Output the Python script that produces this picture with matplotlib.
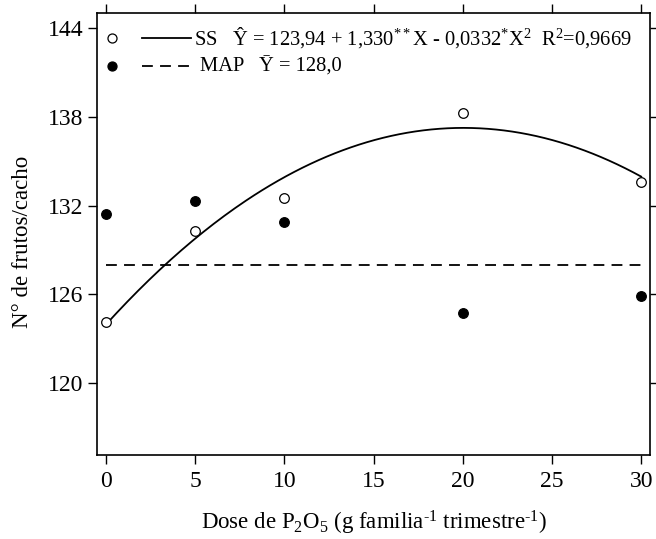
import numpy as np
import matplotlib
matplotlib.use("Agg")
import matplotlib.pyplot as plt

plt.rcParams['font.family'] = ['Liberation Serif', 'DejaVu Serif']
plt.rcParams['mathtext.fontset'] = 'custom'
plt.rcParams['mathtext.rm'] = 'Liberation Serif'
plt.rcParams['mathtext.it'] = 'Liberation Serif:italic'
plt.rcParams['mathtext.bf'] = 'Liberation Serif:bold'

# Doses of P2O5 and observed fruits per bunch
dose = [0, 5, 10, 20, 30]
ss_obs = [124.1, 130.3, 132.5, 138.3, 133.6]
map_obs = [131.4, 132.3, 130.9, 124.7, 125.9]

# Fitted models
ss_coef = [123.94, 1.330, -0.0332]
map_mean = 128.0

xticks = [0, 5, 10, 15, 20, 25, 30]
yticks = [120, 126, 132, 138, 144]

fig = plt.figure(figsize=(6.56, 5.39), dpi=100)
ax = fig.add_axes([0.148, 0.156, 0.843, 0.820])

xs = np.linspace(0, 30, 200)
ax.plot(xs, ss_coef[0] + ss_coef[1] * xs + ss_coef[2] * xs**2,
        color='black', lw=1.3, zorder=2)
ax.plot([0, 30], [map_mean, map_mean], color='black', lw=1.3,
        dashes=(6, 4), zorder=2)

ax.scatter(dose, ss_obs, s=48, facecolor='white', edgecolor='black',
           linewidths=0.9, zorder=3, clip_on=False)
ax.scatter(dose, map_obs, s=48, facecolor='black', edgecolor='black',
           linewidths=0.9, zorder=3, clip_on=False)

ax.set_xlim(-0.5, 30.5)
ax.set_ylim(115.1, 145.05)
ax.set_xticks(xticks)
ax.set_yticks(yticks)
ax.tick_params(direction='out', length=6.5, width=1, labelsize=17,
               top=True, right=True, labeltop=False, labelright=False)
ax.tick_params(axis='y', pad=3.5)
ax.tick_params(axis='x', pad=5)
for sp in ax.spines.values():
    sp.set_linewidth(1.2)

ax.set_ylabel('N° de frutos/cacho', fontsize=16.5)
ax.yaxis.set_label_coords(-0.134, 0.482)
ax.yaxis.label.set_va('center')
ax.set_xlabel('Dose de P$_2$O$_5$ (g familia$^{\\text{-1}}$ trimestre$^{\\text{-1}}$)',
              fontsize=16.5)
ax.xaxis.set_label_coords(0.5, -0.1697)
ax.xaxis.label.set_va('baseline')

# Legend drawn by hand
tr = ax.transAxes
def ax_x(px):
    return (px - 97) / 553.0
def ax_y(py):
    return (455 - py) / 442.0

ax.plot([ax_x(112)], [ax_y(38)], 'o', ms=6.5, mfc='white', mec='black',
        mew=0.9, transform=tr)
ax.plot([ax_x(112)], [ax_y(66)], 'o', ms=6.5, mfc='black', mec='black',
        mew=0.9, transform=tr)
ax.plot([ax_x(142), ax_x(191)], [ax_y(38)] * 2, color='black', lw=1.3,
        transform=tr)
ax.plot([ax_x(142), ax_x(191)], [ax_y(66)] * 2, color='black', lw=1.3,
        dashes=(6, 4), transform=tr)
ax.text(ax_x(194), ax_y(45),
        'SS   Ŷ = 123,94 + 1,330$^{**}$X - 0,0332$^{*}$X$^{2}$  R$^{2}$=0,9669',
        fontsize=14.8, va='baseline', ha='left', transform=tr)
ax.text(ax_x(200), ax_y(72), 'MAP   Ȳ = 128,0',
        fontsize=14.8, va='baseline', ha='left', transform=tr)

fig.savefig('out.png', dpi=100)
